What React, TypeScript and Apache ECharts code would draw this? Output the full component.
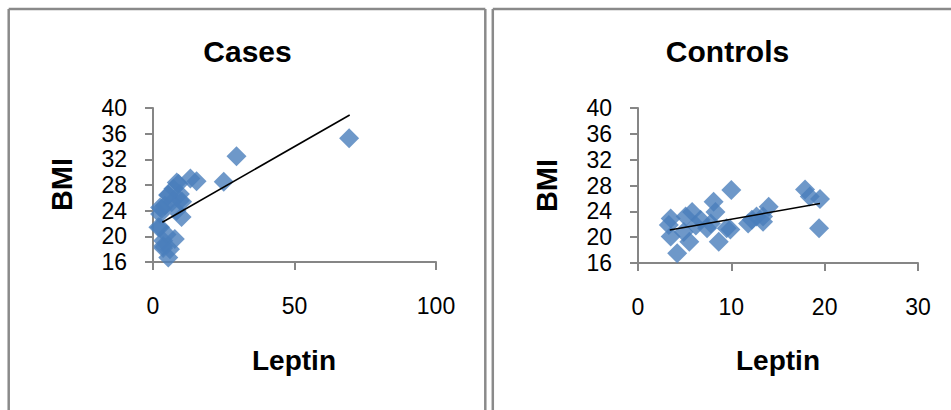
import React, { useEffect, useRef } from "react";
import * as echarts from "echarts";

const casesLeptin = [69.3, 29.5, 25.0, 15.4, 13.2, 9.0, 7.2, 5.4, 9.5, 9.5, 6.6, 4.2, 3.1, 2.5, 10.1, 8.3, 2.5, 4.8, 7.7, 3.6, 6.0, 5.4, 3.6, 10.3, 8.4, 5.4, 2.5, 1.9, 3.6];
const casesBMI = [35.3, 32.5, 28.5, 28.6, 29.0, 28.2, 27.4, 26.5, 26.6, 25.6, 25.3, 24.8, 24.3, 23.5, 23.0, 24.0, 21.4, 20.3, 19.6, 18.5, 18.0, 16.7, 19.3, 25.4, 28.4, 26.4, 24.5, 21.4, 18.2];
const casesTrendLeptin = [3.3, 69.5];
const casesTrendBMI = [22.2, 38.9];

const controlsLeptin = [10.0, 17.9, 18.4, 19.5, 19.4, 14.0, 13.4, 12.7, 11.8, 13.4, 8.1, 8.3, 9.5, 8.65, 7.8, 5.8, 6.7, 5.1, 3.5, 3.3, 3.5, 5.5, 4.2, 4.9, 7.4, 12.2, 9.9, 6.2];
const controlsBMI = [27.3, 27.4, 26.3, 25.9, 21.4, 24.7, 23.2, 23.2, 22.1, 22.4, 25.5, 23.9, 21.4, 19.3, 22.1, 23.9, 22.7, 23.2, 22.9, 21.9, 20.1, 19.3, 17.5, 20.8, 21.4, 22.7, 21.2, 21.8];
const controlsTrendLeptin = [3.4, 19.5];
const controlsTrendBMI = [21.1, 25.2];

const xTicksCases = { min: 0, max: 100, interval: 50 };
const xTicksControls = { min: 0, max: 30, interval: 10 };
const yTicks = { min: 16, max: 40, interval: 4 };

const panelTitles = ["Cases", "Controls"];
const xName = "Leptin";
const yName = "BMI";

const FONT = "'Liberation Sans', Arial, sans-serif";
const AXIS_GRAY = "#868686";
const BORDER_GRAY = "#8a8a8a";
const MARKER = "#4a7ebb";

function pairs(xs: number[], ys: number[]) {
  return xs.map((x, i) => [x, ys[i]]);
}

function xAxisCfg(gridIndex: number, t: { min: number; max: number; interval: number }) {
  return {
    type: "value",
    gridIndex,
    min: t.min,
    max: t.max,
    interval: t.interval,
    axisLine: { show: true, lineStyle: { color: AXIS_GRAY, width: 2 } },
    axisTick: { show: true, length: 8, lineStyle: { color: AXIS_GRAY, width: 2 } },
    splitLine: { show: false },
    axisLabel: { margin: 32, fontSize: 23, lineHeight: 23, color: "#000", fontFamily: FONT },
  };
}

function yAxisCfg(gridIndex: number) {
  return {
    type: "value",
    gridIndex,
    min: yTicks.min,
    max: yTicks.max,
    interval: yTicks.interval,
    axisLine: { show: true, lineStyle: { color: AXIS_GRAY, width: 2 } },
    axisTick: { show: true, length: 8, lineStyle: { color: AXIS_GRAY, width: 2 } },
    splitLine: { show: false },
    axisLabel: { margin: 26, fontSize: 23, lineHeight: 23, color: "#000", fontFamily: FONT },
  };
}

export default function App() {
  const ref = useRef<HTMLDivElement>(null);
  useEffect(() => {
    if (!ref.current) return;
    const chart = echarts.init(ref.current, undefined, { renderer: "svg" });
    const boldText = (text: string, x: number, y: number, size: number, rotation = 0) => ({
      type: "text",
      x,
      y,
      rotation,
      silent: true,
      style: {
        text,
        fontFamily: FONT,
        fontWeight: "bold",
        fontSize: size,
        fill: "#000",
        align: "center",
        verticalAlign: "middle",
      },
    });
    const line = (x1: number, y1: number, x2: number, y2: number) => ({
      type: "line",
      silent: true,
      shape: { x1, y1, x2, y2 },
      style: { stroke: BORDER_GRAY, lineWidth: 2.5 },
    });
    chart.setOption({
      animation: false,
      backgroundColor: "#fff",
      grid: [
        { left: 153, top: 108, width: 283, height: 154 },
        { left: 638, top: 108, width: 280, height: 155 },
      ],
      xAxis: [xAxisCfg(0, xTicksCases), xAxisCfg(1, xTicksControls)],
      yAxis: [yAxisCfg(0), yAxisCfg(1)],
      series: [
        {
          type: "scatter",
          xAxisIndex: 0,
          yAxisIndex: 0,
          symbol: "diamond",
          symbolSize: 20,
          itemStyle: { color: MARKER },
          data: pairs(casesLeptin, casesBMI),
        },
        {
          type: "line",
          xAxisIndex: 0,
          yAxisIndex: 0,
          symbol: "none",
          lineStyle: { color: "#000", width: 1.6 },
          data: pairs(casesTrendLeptin, casesTrendBMI),
          z: 5,
        },
        {
          type: "scatter",
          xAxisIndex: 1,
          yAxisIndex: 1,
          symbol: "diamond",
          symbolSize: 20,
          itemStyle: { color: MARKER },
          data: pairs(controlsLeptin, controlsBMI),
        },
        {
          type: "line",
          xAxisIndex: 1,
          yAxisIndex: 1,
          symbol: "none",
          lineStyle: { color: "#000", width: 1.6 },
          data: pairs(controlsTrendLeptin, controlsTrendBMI),
          z: 5,
        },
      ],
      graphic: [
        line(8.7, 9, 8.7, 410),
        line(8.7, 9, 485.3, 9),
        line(485.3, 9, 485.3, 410),
        line(492.8, 9, 492.8, 410),
        line(492.8, 9, 951, 9),
        boldText(panelTitles[0], 247.5, 51, 30),
        boldText(panelTitles[1], 727.5, 51, 30),
        boldText(xName, 294, 360, 28),
        boldText(xName, 778, 360, 28),
        boldText(yName, 62, 184.5, 29, Math.PI / 2),
        boldText(yName, 547, 185.5, 29, Math.PI / 2),
      ],
    });
    return () => chart.dispose();
  }, []);
  return (
    <div
      ref={ref}
      style={{ position: "absolute", left: 0, top: 0, width: 951, height: 410 }}
    />
  );
}
